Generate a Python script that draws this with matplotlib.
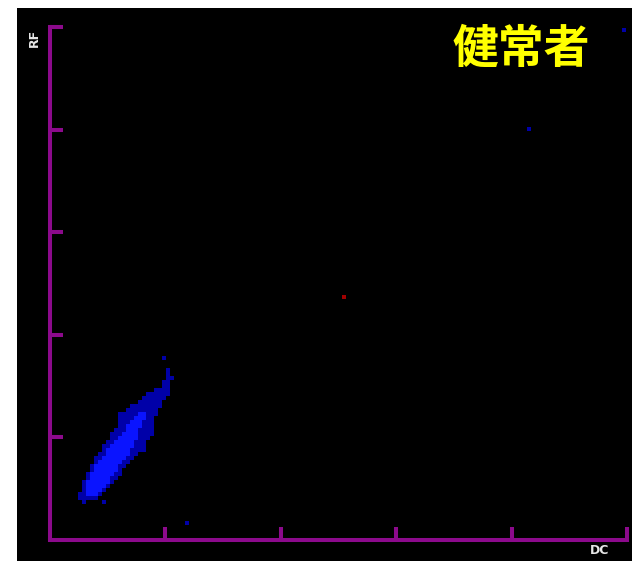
import numpy as np
import matplotlib
matplotlib.use("Agg")
import matplotlib.pyplot as plt
from matplotlib.colors import ListedColormap, BoundaryNorm

# axis range (channels scaled 0-1000), ticks every 200
axis_max = 1000
tick_values = [200, 400, 600, 800, 1000]

# 2D histogram bins: 144 x 128 over the full range
n_xbins = 144
n_ybins = 128
# cluster block: first column index, top row index
cluster_col0 = 7
cluster_row_top = 45
# levels per cell: '.' none, '1' few events, '3' many events (rows top -> bottom)
cluster_rows = [
    ".....................1..",
    "........................",
    "........................",
    "......................1.",
    "......................1.",
    "......................11",
    ".....................11.",
    ".....................11.",
    "...................1111.",
    ".................111111.",
    "................111111..",
    "...............111111...",
    ".............11111111...",
    "............11111111....",
    "..........1111133111....",
    "..........111133311.....",
    "..........111333111.....",
    "..........113333111.....",
    ".........1113331111.....",
    "........11133331111.....",
    "........1133333111......",
    ".......1133333111.......",
    "......11333333111.......",
    "......13333331111.......",
    ".....1133333311.........",
    "....1133333311..........",
    "....133333311...........",
    "...133333311............",
    "...13333331.............",
    "..133333311.............",
    "..13333311..............",
    ".13333331...............",
    ".1333331................",
    ".133331.................",
    "113331..................",
    "11111...................",
    ".1....1.................",
]

# single events outside the cluster
stray_x = [237, 830, 995]
stray_y = [33, 801, 994]
red_x = [510]
red_y = [474]

purple = "#8c0a8c"
W, H = 635, 563
fig = plt.figure(figsize=(W / 100, H / 100), dpi=100, facecolor="white")

# black display panel
bg = fig.add_axes([17 / W, 2 / H, 615 / W, 553 / H])
bg.set_facecolor("black")
bg.set_xticks([])
bg.set_yticks([])
for s in bg.spines.values():
    s.set_visible(False)

ax = fig.add_axes([50 / W, 23 / H, 577 / W, 513 / H])
ax.set_facecolor("none")
ax.set_xlim(0, axis_max)
ax.set_ylim(0, axis_max)

# build level grid from the row strings
levels = np.array([[{".": 0, "1": 1, "3": 2}[ch] for ch in row] for row in cluster_rows])
levels = levels[::-1]  # bottom row first
nrows, ncols = levels.shape
dx = axis_max / n_xbins
dy = axis_max / n_ybins
xedges = (cluster_col0 + np.arange(ncols + 1)) * dx
row_bottom = cluster_row_top - nrows + 1
yedges = (row_bottom + np.arange(nrows + 1)) * dy

cmap = ListedColormap(["#0000a8", "#0a14ff"])
masked = np.ma.masked_equal(levels, 0)
ax.pcolormesh(xedges, yedges, masked, cmap=cmap,
              norm=BoundaryNorm([0.5, 1.5, 2.5], 2), antialiased=False, linewidth=0)

ax.scatter(stray_x, stray_y, s=9, marker="s", color="#0000a8", linewidths=0, clip_on=False)
ax.scatter(red_x, red_y, s=9, marker="s", color="#a00000", linewidths=0, clip_on=False)

for side in ["top", "right"]:
    ax.spines[side].set_visible(False)
for side in ["left", "bottom"]:
    ax.spines[side].set_color(purple)
    ax.spines[side].set_linewidth(2.9)
    ax.spines[side].set_capstyle("projecting")

ax.set_xticks(tick_values)
ax.set_yticks(tick_values)
ax.set_xticklabels([])
ax.set_yticklabels([])
ax.tick_params(direction="in", length=9.5, width=2.9, color=purple)

fig.text(34 / W, 1 - 38 / H, "RF", rotation=90, ha="center", va="center",
         color="#e6e6e6", fontsize=9, fontweight="bold", family="DejaVu Sans")
fig.text(600 / W, 1 - 551 / H, "DC", ha="center", va="center",
         color="#e6e6e6", fontsize=9, fontweight="bold", family="DejaVu Sans")
fig.text(521 / W, 1 - 50 / H, "健常者", ha="center", va="center",
         color="#ffff00", fontsize=33, fontweight="bold",
         family=["Noto Sans CJK JP", "DejaVu Sans"])

fig.savefig("out.png", dpi=100, facecolor="white")
